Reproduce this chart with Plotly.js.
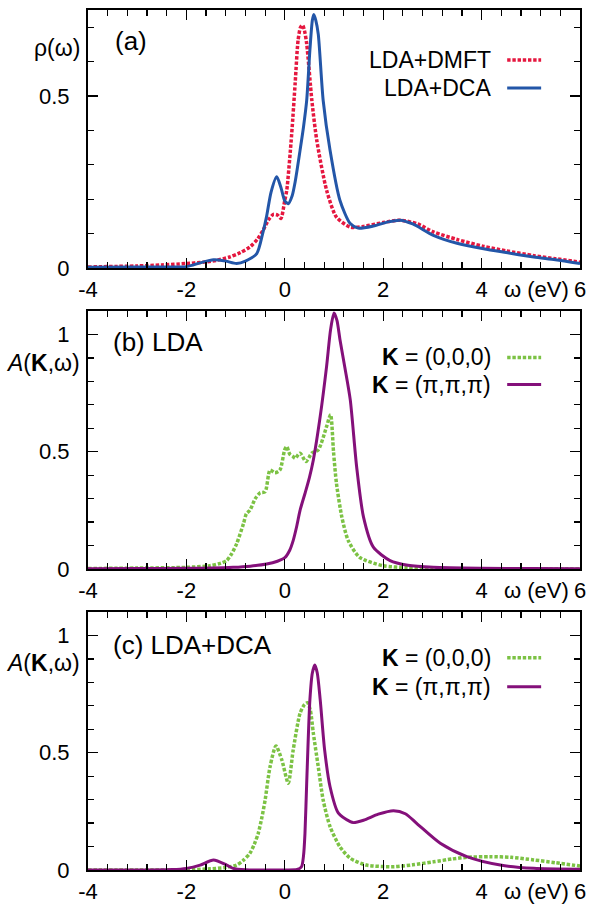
<!DOCTYPE html>
<html>
<head>
<meta charset="utf-8">
<script src="https://cdn.plot.ly/plotly-3.0.1.min.js"></script>
<style>
html,body{margin:0;padding:0;background:#fff;}
#chart{width:598px;height:905px;}
</style>
</head>
<body>
<div id="chart"></div>
<script>
// ---------- Panel (a): local spectral function rho(omega) ----------
const omegaDMFT = [-4, -3, -2.5, -2, -1.66, -1.4, -1.12, -0.9, -0.71, -0.55, -0.44, -0.33, -0.23, -0.15, -0.08, 0.0, 0.04, 0.14, 0.21, 0.27, 0.32, 0.36, 0.40, 0.445, 0.55, 0.65, 0.85, 1.05, 1.33, 1.6, 2.0, 2.34, 2.7, 3.02, 3.5, 4.04, 4.5, 5.06, 5.5, 6];
const rhoDMFT   = [0.003, 0.006, 0.009, 0.013, 0.017, 0.022, 0.032, 0.045, 0.061, 0.085, 0.110, 0.140, 0.156, 0.154, 0.144, 0.197, 0.226, 0.390, 0.536, 0.662, 0.700, 0.706, 0.690, 0.652, 0.487, 0.371, 0.226, 0.148, 0.119, 0.121, 0.132, 0.139, 0.128, 0.105, 0.083, 0.063, 0.050, 0.036, 0.027, 0.017];

const omegaDCA = [-4, -3, -2.5, -2, -1.72, -1.45, -1.2, -0.98, -0.8, -0.57, -0.45, -0.37, -0.28, -0.165, -0.08, 0.0, 0.07, 0.15, 0.21, 0.31, 0.38, 0.445, 0.51, 0.56, 0.59, 0.63, 0.68, 0.78, 0.92, 1.12, 1.33, 1.49, 1.8, 2.1, 2.34, 2.6, 3.02, 3.5, 4.04, 4.5, 5.06, 5.5, 6];
const rhoDCA   = [0.002, 0.003, 0.003, 0.004, 0.015, 0.024, 0.020, 0.013, 0.020, 0.042, 0.100, 0.150, 0.220, 0.265, 0.235, 0.195, 0.187, 0.210, 0.250, 0.342, 0.410, 0.487, 0.633, 0.720, 0.737, 0.720, 0.680, 0.487, 0.342, 0.197, 0.129, 0.116, 0.122, 0.134, 0.139, 0.128, 0.095, 0.072, 0.056, 0.045, 0.032, 0.024, 0.013];

// ---------- Panel (b): LDA, A(K,omega) ----------
const omegaLDA0 = [-4, -3, -2, -1.52, -1.3, -1.18, -1.08, -0.98, -0.84, -0.78, -0.71, -0.6, -0.5, -0.4, -0.3, -0.2, -0.1, 0.0, 0.04, 0.1, 0.17, 0.21, 0.31, 0.43, 0.55, 0.68, 0.85, 0.93, 0.99, 1.05, 1.16, 1.29, 1.52, 2.0, 2.5, 3, 4, 5, 6];
const aLDA0     = [0.002, 0.004, 0.007, 0.014, 0.025, 0.036, 0.065, 0.107, 0.193, 0.236, 0.250, 0.300, 0.325, 0.329, 0.422, 0.410, 0.422, 0.510, 0.522, 0.490, 0.479, 0.472, 0.494, 0.458, 0.494, 0.508, 0.608, 0.658, 0.500, 0.365, 0.221, 0.121, 0.050, 0.014, 0.005, 0.002, 0.001, 0.0005, 0.0003];

const omegaLDApi = [-4, -3, -2, -1.5, -1.05, -0.7, -0.37, -0.15, 0.0, 0.1, 0.17, 0.24, 0.31, 0.41, 0.5, 0.58, 0.72, 0.85, 0.93, 1.0, 1.06, 1.12, 1.22, 1.33, 1.46, 1.6, 1.8, 2.14, 2.5, 3.02, 4, 5, 6];
const aLDApi     = [0.001, 0.002, 0.003, 0.004, 0.007, 0.012, 0.021, 0.033, 0.048, 0.080, 0.121, 0.180, 0.250, 0.322, 0.390, 0.465, 0.651, 0.865, 1.020, 1.091, 1.060, 0.980, 0.860, 0.722, 0.436, 0.221, 0.093, 0.036, 0.016, 0.007, 0.003, 0.002, 0.001];

// ---------- Panel (c): LDA+DCA, A(K,omega) ----------
const omegaDCA0 = [-4, -3, -2, -1.52, -1.2, -0.98, -0.85, -0.71, -0.62, -0.54, -0.47, -0.40, -0.30, -0.18, -0.06, 0.07, 0.17, 0.31, 0.40, 0.46, 0.52, 0.58, 0.68, 0.78, 0.92, 1.12, 1.33, 1.66, 2.21, 2.6, 3.02, 3.4, 3.7, 4.17, 4.6, 5.06, 5.5, 6];
const aDCA0     = [0, 0, 0.001, 0.005, 0.011, 0.021, 0.040, 0.071, 0.110, 0.156, 0.220, 0.298, 0.440, 0.529, 0.469, 0.370, 0.511, 0.668, 0.705, 0.713, 0.680, 0.583, 0.440, 0.298, 0.185, 0.099, 0.050, 0.021, 0.014, 0.022, 0.035, 0.047, 0.054, 0.057, 0.054, 0.043, 0.031, 0.017];

const omegaDCApi = [-4, -3, -2.3, -2.0, -1.72, -1.45, -1.18, -1.05, -0.8, -0.5, 0.0, 0.25, 0.34, 0.38, 0.41, 0.445, 0.51, 0.56, 0.61, 0.66, 0.72, 0.81, 0.92, 1.09, 1.33, 1.39, 1.6, 1.9, 2.21, 2.45, 2.68, 3.16, 3.7, 4.38, 5.06, 6];
const aDCApi     = [0, 0, 0.002, 0.007, 0.021, 0.043, 0.021, 0.007, 0.001, 0, 0, 0.002, 0.014, 0.060, 0.156, 0.370, 0.725, 0.840, 0.874, 0.840, 0.725, 0.511, 0.355, 0.242, 0.206, 0.202, 0.212, 0.238, 0.253, 0.240, 0.199, 0.114, 0.057, 0.021, 0.007, 0.003];

// ---------- Tick labels ----------
const xTickVals = [-4, -2, 0, 2, 4, 6];
const xTickText = ["-4", "-2", "0", "2", "4", "6"];
const yTickValsA = [0, 0.5];
const yTickTextA = ["0", "0.5"];
const yTickValsK = [0, 0.5, 1];
const yTickTextK = ["0", "0.5", "1"];

// ---------- Styles ----------
const FONT = "Liberation Sans, Arial, Helvetica, sans-serif";
const RED = "#e5173f", BLUE = "#2356a8", GREEN = "#7cc244", PURPLE = "#84107a";
const DOTS = "3.4px,1.8px";

function tr(x, y, color, dash, w, xa, ya) {
  return {x: x, y: y, type: "scatter", mode: "lines", xaxis: xa, yaxis: ya,
    line: {color: color, width: w, dash: dash, shape: "spline", smoothing: 0.7},
    showlegend: false, hoverinfo: "skip", cliponaxis: false};
}

const data = [
  tr(omegaDMFT, rhoDMFT, RED, DOTS, 3.5, "x", "y"),
  tr(omegaDCA, rhoDCA, BLUE, "solid", 3, "x", "y"),
  tr(omegaLDA0, aLDA0, GREEN, DOTS, 3.5, "x2", "y2"),
  tr(omegaLDApi, aLDApi, PURPLE, "solid", 3, "x2", "y2"),
  tr(omegaDCA0, aDCA0, GREEN, DOTS, 3.5, "x3", "y3"),
  tr(omegaDCApi, aDCApi, PURPLE, "solid", 3, "x3", "y3")
];

function xax(anchor) {
  return {anchor: anchor, range: [-4, 6], tickvals: xTickVals, ticktext: xTickText,
    ticks: "inside", ticklen: 10, tickwidth: 1.2, tickcolor: "#000",
    minor: {dtick: 0.4, tick0: -4, ticks: "inside", ticklen: 6, tickwidth: 1.2, tickcolor: "#000", showgrid: false},
    showline: true, linecolor: "#000", linewidth: 2, mirror: "allticks",
    showgrid: false, zeroline: false, ticklabelstandoff: 1,
    tickfont: {family: FONT, size: 22, color: "#000"}, fixedrange: true};
}
function yax(anchor, dom, rmax, tv, tt) {
  return {anchor: anchor, domain: dom, range: [0, rmax], tickvals: tv, ticktext: tt,
    ticks: "inside", ticklen: 10, tickwidth: 1.2, tickcolor: "#000",
    minor: {dtick: 0.1, tick0: 0, ticks: "inside", ticklen: 6, tickwidth: 1.2, tickcolor: "#000", showgrid: false},
    showline: true, linecolor: "#000", linewidth: 2, mirror: "allticks",
    showgrid: false, zeroline: false, ticklabelstandoff: 12,
    tickfont: {family: FONT, size: 22, color: "#000"}, fixedrange: true};
}

const tf = {family: FONT, size: 23, color: "#000"};
const pf = {family: FONT, size: 26, color: "#000"};
const af = {family: FONT, size: 22, color: "#000"};
function ann(text, xref, yref, x, y, xanchor, extra) {
  return Object.assign({text: text, xref: xref, yref: yref, x: x, y: y,
    xanchor: xanchor, yanchor: "middle", showarrow: false, font: tf}, extra || {});
}

const annotations = [
  // y-axis titles
  ann("ρ(ω)", "x domain", "y domain", -0.012, 0.853, "right"),
  ann("<i>A</i>(<b>K</b>,ω)", "x2 domain", "y2 domain", -0.012, 0.80, "right"),
  ann("<i>A</i>(<b>K</b>,ω)", "x3 domain", "y3 domain", -0.012, 0.803, "right"),
  // panel labels
  ann("(a)", "x domain", "y domain", 0.05, 0.88, "left", {font: pf}),
  ann("(b) LDA", "x2 domain", "y2 domain", 0.046, 0.878, "left", {font: pf}),
  ann("(c) LDA+DCA", "x3 domain", "y3 domain", 0.046, 0.873, "left", {font: pf}),
  // x-axis unit labels
  ann("ω (eV)", "x", "y domain", 5.12, -0.085, "center", {font: af}),
  ann("ω (eV)", "x2", "y2 domain", 5.12, -0.085, "center", {font: af}),
  ann("ω (eV)", "x3", "y3 domain", 5.12, -0.085, "center", {font: af}),
  // legends
  ann("LDA+DMFT", "x domain", "y domain", 0.823, 0.806, "right"),
  ann("LDA+DCA", "x domain", "y domain", 0.823, 0.698, "right"),
  ann("<b>K</b> = (0,0,0)", "x2 domain", "y2 domain", 0.823, 0.82, "right"),
  ann("<b>K</b> = (π,π,π)", "x2 domain", "y2 domain", 0.823, 0.715, "right"),
  ann("<b>K</b> = (0,0,0)", "x3 domain", "y3 domain", 0.823, 0.823, "right"),
  ann("<b>K</b> = (π,π,π)", "x3 domain", "y3 domain", 0.823, 0.71, "right")
];

function sample(xr, yr, y, color, dash, w) {
  return {type: "line", xref: xr, yref: yr, x0: 0.852, x1: 0.921, y0: y, y1: y,
    line: {color: color, width: w, dash: dash}};
}
const shapes = [
  sample("x domain", "y domain", 0.806, RED, DOTS, 3.5),
  sample("x domain", "y domain", 0.698, BLUE, "solid", 3),
  sample("x2 domain", "y2 domain", 0.82, GREEN, DOTS, 3.5),
  sample("x2 domain", "y2 domain", 0.715, PURPLE, "solid", 3),
  sample("x3 domain", "y3 domain", 0.823, GREEN, DOTS, 3.5),
  sample("x3 domain", "y3 domain", 0.71, PURPLE, "solid", 3)
];

const layout = {
  width: 598, height: 905,
  margin: {l: 88, r: 18, t: 10, b: 35},
  paper_bgcolor: "#fff", plot_bgcolor: "#fff",
  font: {family: FONT, size: 22, color: "#000"},
  showlegend: false,
  xaxis: xax("y"),
  xaxis2: xax("y2"),
  xaxis3: xax("y3"),
  yaxis: yax("x", [0.7, 1.0], 0.75, yTickValsA, yTickTextA),
  yaxis2: yax("x2", [0.35, 0.65], 1.1, yTickValsK, yTickTextK),
  yaxis3: yax("x3", [0.0, 0.3], 1.1, yTickValsK, yTickTextK),
  annotations: annotations,
  shapes: shapes
};

Plotly.newPlot("chart", data, layout, {staticPlot: true, displayModeBar: false});
</script>
</body>
</html>
